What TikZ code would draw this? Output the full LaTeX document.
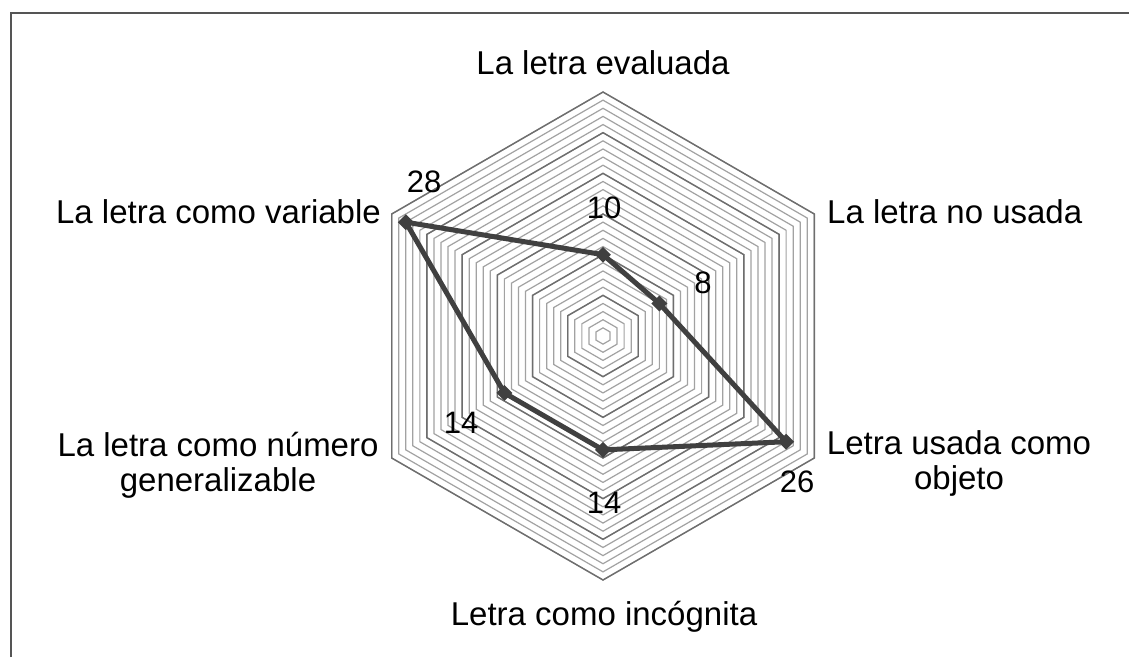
\documentclass[tikz,border=0pt]{standalone}
\usepackage{fontspec}
\setmainfont{Liberation Sans}
\usetikzlibrary{shapes.geometric}
\definecolor{minorgrid}{HTML}{A2A2A2}
\definecolor{majorgrid}{HTML}{6E6E6E}
\definecolor{series}{HTML}{404040}
\definecolor{framegray}{HTML}{555555}
\begin{document}
\begin{tikzpicture}[x=1pt,y=-1pt,
  axislabel/.style={font=\fontsize{33}{35}\selectfont, inner sep=0pt, text=black},
  vallabel/.style={font=\fontsize{31}{33}\selectfont, inner sep=0pt, anchor=base, text=black},
  minorring/.style={draw=minorgrid, line width=1.2pt},
  majorring/.style={draw=majorgrid, line width=1.4pt},
  dataline/.style={draw=series, line width=5pt, line join=round},
  marker/.style={diamond, fill=series, minimum size=16pt, inner sep=0pt},
  frameline/.style={draw=framegray, line width=1.6pt}]
\useasboundingbox (0,0) rectangle (1129,657);
\fill[white] (0,0) rectangle (1129,657);
\draw[frameline] (11,657) -- (11,12.7) -- (1129,12.7);
\begin{scope}[shift={(603,336)}, yscale=-1]
  \foreach \k in {1,...,30}{
    \pgfmathsetmacro\rr{\k*8.133}
    \draw[minorring] (90:\rr) -- (30:\rr) -- (-30:\rr) -- (-90:\rr) -- (-150:\rr) -- (150:\rr) -- cycle;
  }
  \foreach \k in {5,10,...,30}{
    \pgfmathsetmacro\rr{\k*8.133}
    \draw[majorring] (90:\rr) -- (30:\rr) -- (-30:\rr) -- (-90:\rr) -- (-150:\rr) -- (150:\rr) -- cycle;
  }
  \coordinate (c1) at (90:{10*8.133});
  \coordinate (c2) at (30:{8*8.133});
  \coordinate (c3) at (-30:{26*8.133});
  \coordinate (c4) at (-90:{14*8.133});
  \coordinate (c5) at (-150:{14*8.133});
  \coordinate (c6) at (150:{28*8.133});
\end{scope}
\draw[dataline] (c1) -- (c2) -- (c3) -- (c4) -- (c5) -- (c6) -- cycle;
\node[marker] (p1) at (c1) {};
\node[marker] (p2) at (c2) {};
\node[marker] (p3) at (c3) {};
\node[marker] (p4) at (c4) {};
\node[marker] (p5) at (c5) {};
\node[marker] (p6) at (c6) {};
% axis labels
\node[axislabel, anchor=base] (lE) at (603,74) {La letra evaluada};
\node[axislabel, anchor=base east] (lV) at (381,223) {La letra como variable};
\node[axislabel, anchor=base west] (lN) at (827,223) {La letra no usada};
\node[axislabel, align=center, anchor=base] (lO) at (959,489) {Letra usada como\\objeto};
\node[axislabel, align=center, anchor=base] (lG) at (218,491) {La letra como número\\generalizable};
\node[axislabel, anchor=base] (lI) at (604,625) {Letra como incógnita};
% value labels
\node[vallabel] (v6) at (424,192) {28};
\node[vallabel] (v1) at (604,218) {10};
\node[vallabel] (v2) at (703,293) {8};
\node[vallabel] (v3) at (797,492) {26};
\node[vallabel] (v4) at (604,513) {14};
\node[vallabel] (v5) at (461,433) {14};
\end{tikzpicture}
\end{document}
